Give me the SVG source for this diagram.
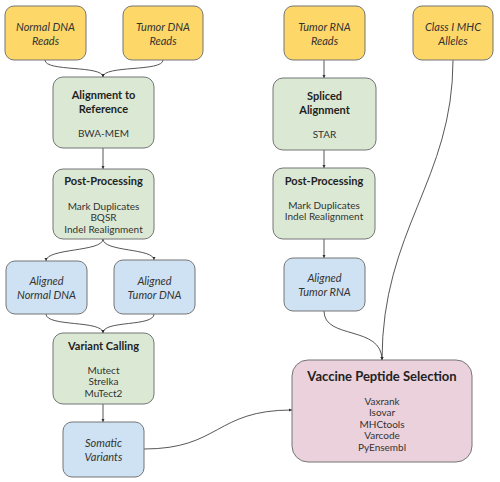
<svg xmlns="http://www.w3.org/2000/svg" width="500" height="482" viewBox="0 0 500 482">
<defs>
<style>
.n rect{stroke:#757575;stroke-width:1}
.y rect{fill:#fdd868}
.g rect{fill:#dbe9d4}
.b rect{fill:#cfe2f3}
.p rect{fill:#ead1dc}
text{font-family:Lato,"Liberation Sans",sans-serif;fill:#222;text-anchor:middle}
.i{font-style:italic;font-size:11px;fill:#333}
.t{font-weight:bold;font-size:11px}
.s{font-size:10px;fill:#333}
.c path{fill:none;stroke:#444;stroke-width:0.9;marker-end:url(#a)}
</style>
<marker id="a" viewBox="0 0 6 6" refX="6" refY="3" markerWidth="3.5" markerHeight="3.5" orient="auto" markerUnits="userSpaceOnUse"><path d="M0,0 L6,3 L0,6 Z" fill="#333"/></marker>
</defs>
<rect width="500" height="482" fill="#fff"/>
<g class="c">
<path d="M45,60 C45,72 103,65 103,77"/>
<path d="M163,60 C163,72 103,65 103,77"/>
<path d="M103,148 L103,169"/>
<path d="M103,239 C103,252 46,248 46,261"/>
<path d="M103,239 C103,252 154,248 154,260"/>
<path d="M46,314 C46,327 103,320 103,333"/>
<path d="M154,314 C154,327 103,320 103,333"/>
<path d="M103,404 L103,422"/>
<path d="M144,449 C220,449 215,410 292,410"/>
<path d="M324,60 L324,78"/>
<path d="M324,150 L324,168"/>
<path d="M324,239 L324,258"/>
<path d="M324,311 C324,340 382,325 382,360"/>
<path d="M453,60 C453,180 382,230 382,360"/>
</g>
<g id="normal-dna-reads" class="n y"><rect x="5" y="6" width="81" height="54" rx="9"/><text class="i" x="45.5" y="31">Normal DNA</text><text class="i" x="45.5" y="45">Reads</text></g>
<g id="tumor-dna-reads" class="n y"><rect x="123" y="6" width="80" height="54" rx="9"/><text class="i" x="163" y="31">Tumor DNA</text><text class="i" x="163" y="45">Reads</text></g>
<g id="tumor-rna-reads" class="n y"><rect x="284" y="6" width="81" height="54" rx="9"/><text class="i" x="324.5" y="31">Tumor RNA</text><text class="i" x="324.5" y="45">Reads</text></g>
<g id="mhc-alleles" class="n y"><rect x="413" y="6" width="80" height="54" rx="9"/><text class="i" x="453" y="31">Class I MHC</text><text class="i" x="453" y="45">Alleles</text></g>
<g id="alignment" class="n g"><rect x="53" y="77" width="101" height="71" rx="10"/><text class="t" x="103.5" y="99">Alignment to</text><text class="t" x="103.5" y="113">Reference</text><text class="s" x="103.5" y="137">BWA-MEM</text></g>
<g id="spliced-alignment" class="n g"><rect x="273" y="78" width="103" height="72" rx="10"/><text class="t" x="324.5" y="100">Spliced</text><text class="t" x="324.5" y="114">Alignment</text><text class="s" x="324.5" y="138">STAR</text></g>
<g id="post-processing-dna" class="n g"><rect x="53" y="169" width="101" height="70" rx="10"/><text class="t" x="103.5" y="185">Post-Processing</text><text class="s" x="103.5" y="209.5">Mark Duplicates</text><text class="s" x="103.5" y="221">BQSR</text><text class="s" x="103.5" y="232.5">Indel Realignment</text></g>
<g id="post-processing-rna" class="n g"><rect x="273" y="168" width="102" height="71" rx="10"/><text class="t" x="324" y="185">Post-Processing</text><text class="s" x="324" y="208.5">Mark Duplicates</text><text class="s" x="324" y="220">Indel Realignment</text></g>
<g id="aligned-normal-dna" class="n b"><rect x="6" y="261" width="81" height="53" rx="9"/><text class="i" x="46.5" y="285">Aligned</text><text class="i" x="46.5" y="299">Normal DNA</text></g>
<g id="aligned-tumor-dna" class="n b"><rect x="114" y="260" width="81" height="54" rx="9"/><text class="i" x="154.5" y="285">Aligned</text><text class="i" x="154.5" y="299">Tumor DNA</text></g>
<g id="aligned-tumor-rna" class="n b"><rect x="284" y="258" width="81" height="53" rx="9"/><text class="i" x="324.5" y="282">Aligned</text><text class="i" x="324.5" y="296">Tumor RNA</text></g>
<g id="variant-calling" class="n g"><rect x="53" y="333" width="101" height="71" rx="10"/><text class="t" x="103.5" y="350">Variant Calling</text><text class="s" x="103.5" y="373.5">Mutect</text><text class="s" x="103.5" y="385">Strelka</text><text class="s" x="103.5" y="396.5">MuTect2</text></g>
<g id="somatic-variants" class="n b"><rect x="63" y="422" width="81" height="55" rx="9"/><text class="i" x="103.5" y="447">Somatic</text><text class="i" x="103.5" y="461">Variants</text></g>
<g id="vaccine-peptide-selection" class="n p"><rect x="292" y="360" width="180" height="102" rx="16"/><text class="t" x="382" y="381" style="font-size:13px">Vaccine Peptide Selection</text><text class="s" x="382" y="404.5">Vaxrank</text><text class="s" x="382" y="416">Isovar</text><text class="s" x="382" y="427.5">MHCtools</text><text class="s" x="382" y="439">Varcode</text><text class="s" x="382" y="450.5">PyEnsembl</text></g>
</svg>
